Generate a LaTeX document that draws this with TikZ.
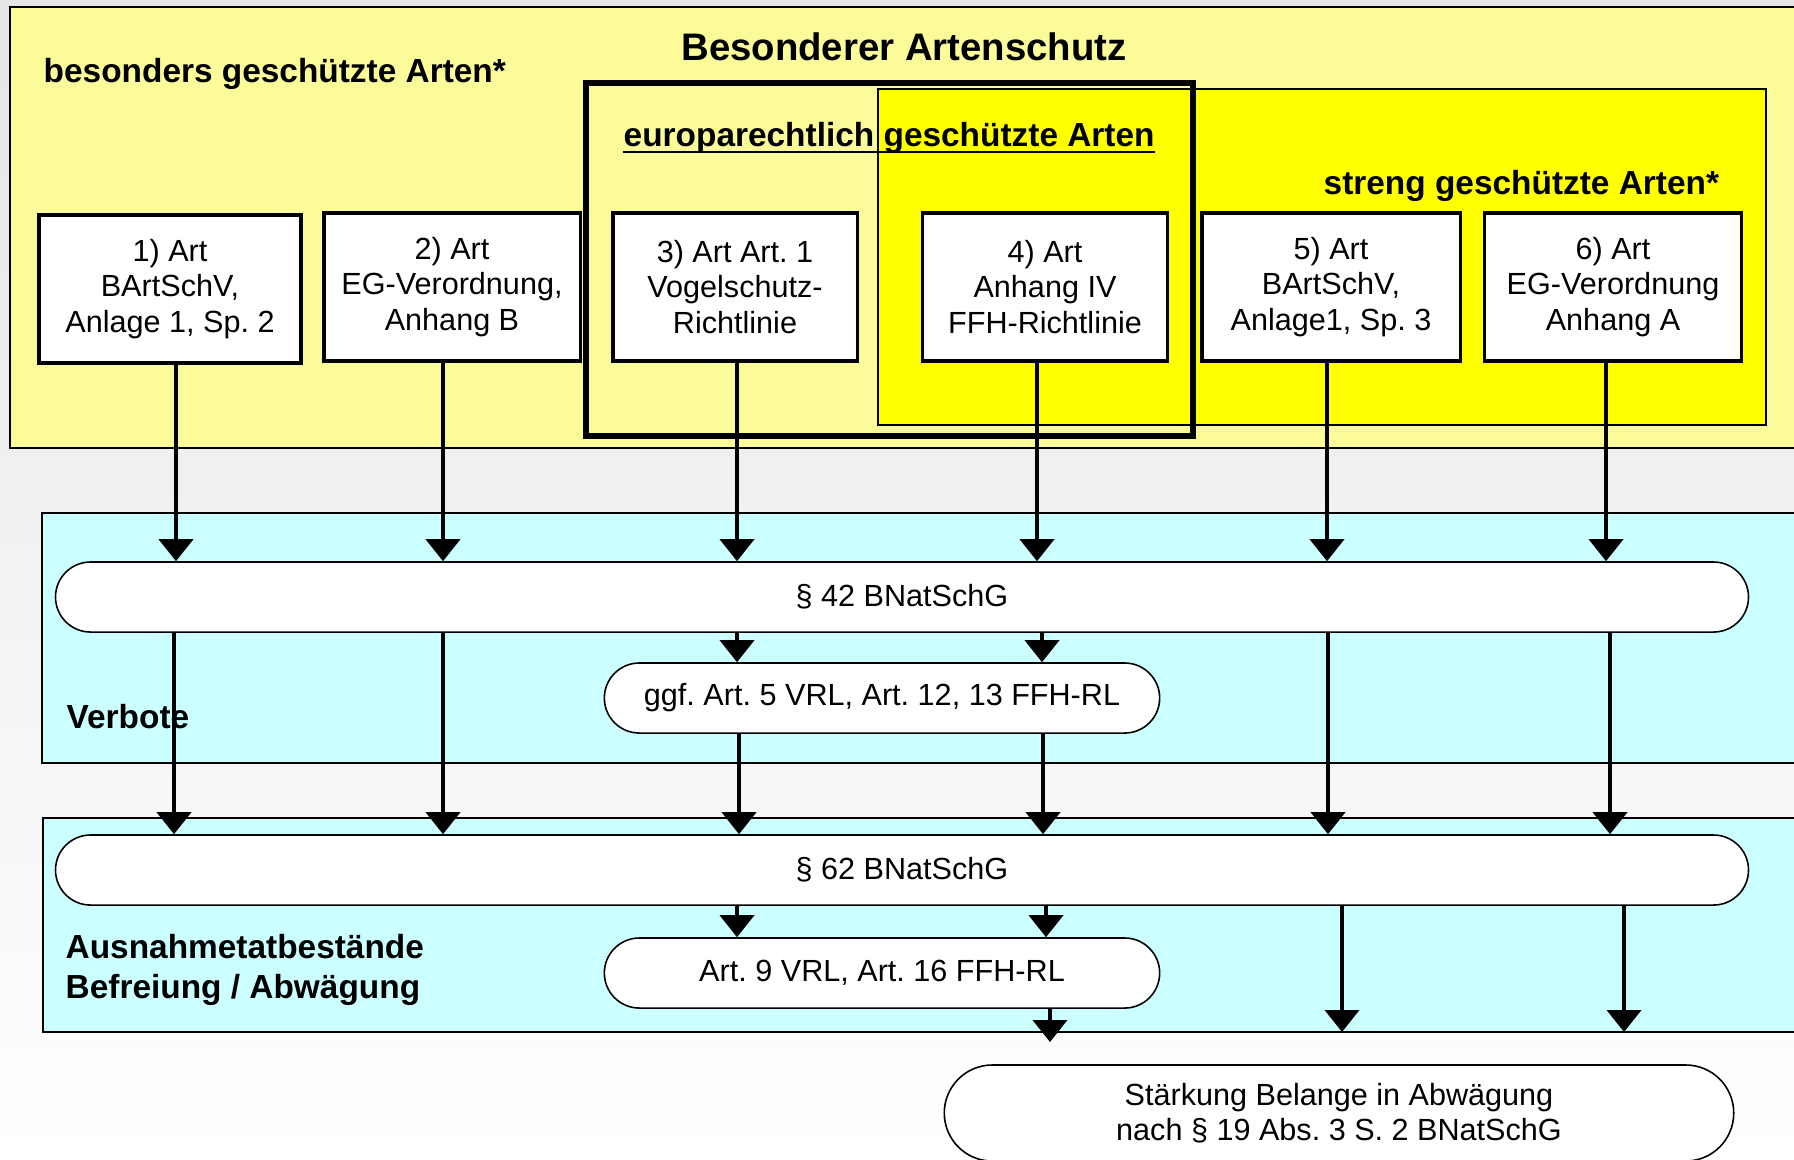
\documentclass[tikz,border=0pt]{standalone}
\usepackage{fontspec}
\setmainfont{Liberation Sans}
\frenchspacing
\usetikzlibrary{arrows.meta,shapes.misc}
\definecolor{paleyellow}{RGB}{251,251,153}
\definecolor{brightyellow}{RGB}{255,255,0}
\definecolor{palecyan}{RGB}{204,255,255}
\tikzset{
  artbox/.style={draw, line width=0.9pt, fill=white, minimum height=1.48cm, inner sep=0pt, align=center, font=\fontsize{8.7}{10.1}\selectfont},
  pill/.style={draw, line width=0.45pt, fill=white, rounded rectangle, minimum height=0.7cm, inner sep=0pt, align=center, font=\fontsize{8.7}{10.1}\selectfont},
  zonelabel/.style={font=\bfseries\fontsize{9.5}{11.2}\selectfont, inner sep=0pt},
  arr/.style={line width=1.1pt, -{Triangle[width=0.34cm, length=0.22cm]}},
}
\begin{document}
\begin{tikzpicture}[x=0.01cm, y=-0.01cm]
\useasboundingbox (0,0) rectangle (1794,1159);
% Background
\shade[top color=black!10, bottom color=white] (0,0) rectangle (1794,1159);
% Zones of species
\draw[line width=0.8pt, fill=paleyellow] (10,7) rectangle (1800,448);
\draw[line width=0.7pt, fill=brightyellow] (878,89) rectangle (1766,425);
\draw[line width=1.7pt] (586,83) rectangle (1193,436);
% Zones of legal consequences
\draw[line width=0.8pt, fill=palecyan] (42,513) rectangle (1800,763);
\draw[line width=0.8pt, fill=palecyan] (43,818) rectangle (1800,1032);
\coordinate (ausend) at (0,1032);
% Zone labels
\node[font=\bfseries\fontsize{10.9}{13}\selectfont, anchor=base, inner sep=0pt] (title) at (904,60) {Besonderer Artenschutz};
\node[zonelabel, anchor=base west] (besonders) at (43,82) {besonders geschützte Arten*};
\node[zonelabel, anchor=base west] (europa) at (623,146) {europarechtlich geschützte Arten};
\draw[line width=0.8pt] ([yshift=-1.7pt]europa.base west) -- ([yshift=-1.7pt]europa.base east);
\node[zonelabel, anchor=base west] (streng) at (1323,194) {streng geschützte Arten*};
\node[zonelabel, anchor=base west] (verbote) at (66,728) {Verbote};
\node[zonelabel, anchor=west, align=left] (ausnahme) at (65,970) {Ausnahmetatbestände\\Befreiung / Abwägung};
% Species boxes
\node[artbox, minimum width=2.62cm] (b1) at (170,289) {1) Art\\BArtSchV,\\Anlage 1, Sp. 2};
\node[artbox, minimum width=2.56cm] (b2) at (452,287) {2) Art\\EG-Verordnung,\\Anhang B};
\node[artbox, minimum width=2.44cm] (b3) at (735,287) {3) Art Art. 1\\Vogelschutz-\\Richtlinie};
\node[artbox, minimum width=2.45cm] (b4) at (1045,287) {4) Art\\Anhang IV\\FFH-Richtlinie};
\node[artbox, minimum width=2.58cm] (b5) at (1331,287) {5) Art\\BArtSchV,\\Anlage1, Sp. 3};
\node[artbox, minimum width=2.57cm] (b6) at (1613,287) {6) Art\\EG-Verordnung\\Anhang A};
% Legal norms
\node[pill, minimum width=16.92cm] (p42) at (902,597) {§ 42 BNatSchG};
\node[pill, minimum width=5.55cm] (ggf) at (882,698) {ggf. Art. 5 VRL, Art. 12, 13 FFH-RL};
\node[pill, minimum width=16.92cm] (p62) at (902,870) {§ 62 BNatSchG};
\node[pill, minimum width=5.55cm] (art9) at (882,973) {Art. 9 VRL, Art. 16 FFH-RL};
\node[pill, minimum width=7.89cm, minimum height=0.96cm] (staerkung) at (1339,1113) {Stärkung Belange in Abwägung\\nach § 19 Abs. 3 S. 2 BNatSchG};
% Arrows
\foreach \n/\x in {1/176,2/443,3/737,4/1037,5/1327,6/1606}
  \draw[arr] (\x,0 |- b\n.south) -- (\x,0 |- p42.north);
\foreach \x in {174,443,1328,1610}
  \draw[arr] (\x,0 |- p42.south) -- (\x,0 |- p62.north);
\foreach \x in {737,1042}
  \draw[arr] (\x,0 |- p42.south) -- (\x,0 |- ggf.north);
\foreach \x in {739,1043}
  \draw[arr] (\x,0 |- ggf.south) -- (\x,0 |- p62.north);
\foreach \x in {737,1046}
  \draw[arr] (\x,0 |- p62.south) -- (\x,0 |- art9.north);
\foreach \x in {1342,1624}
  \draw[arr] (\x,0 |- p62.south) -- (\x,0 |- ausend);
\draw[arr] (1050,0 |- art9.south) -- ([yshift=-0.1cm]1050,0 |- ausend);
\end{tikzpicture}
\end{document}
